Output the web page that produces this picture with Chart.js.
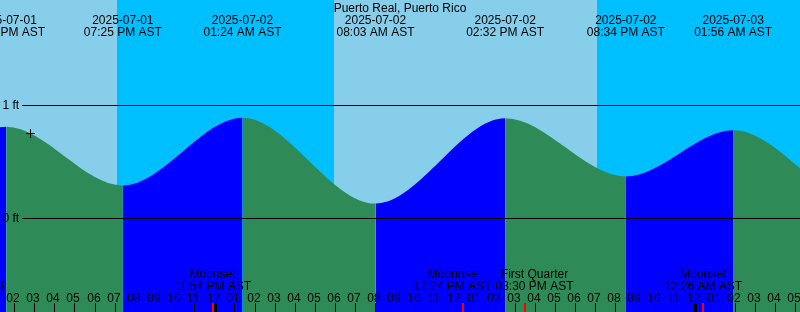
<!DOCTYPE html>
<html><head><meta charset="utf-8">
<script src="https://cdn.jsdelivr.net/npm/chart.js@4/dist/chart.umd.min.js"></script>
<style>html,body{margin:0;padding:0;background:#fff;overflow:hidden}#wrap{width:800px;height:312px}</style>
</head><body><div id="wrap"><canvas id="c" width="800" height="312"></canvas></div>
<script>
// ---- data ----
const title = 'Puerto Real, Puerto Rico';
const tideTimes   = ['2025-07-01 01:05','2025-07-01 07:15','2025-07-01 13:35','2025-07-01 19:25','2025-07-02 01:24','2025-07-02 08:03','2025-07-02 14:32','2025-07-02 20:34','2025-07-03 01:56','2025-07-03 08:40','2025-07-03 15:00'];
const tideHeights = [0.85, 0.10, 0.81, 0.29, 0.89, 0.13, 0.885, 0.37, 0.78, 0.10, 0.85];
const markerTimes   = ['2025-07-01 14:48'];
const markerHeights = [0.75];
const dayStarts = ['2025-07-01 05:57','2025-07-02 05:58','2025-07-03 05:59'];
const dayEnds   = ['2025-07-01 19:07','2025-07-02 19:07','2025-07-03 19:08'];
const moonLabels = ['Moonrise','Moonset','Moonrise','First Quarter','Moonset'];
const moonTimes  = ['2025-07-01 11:38','2025-07-01 23:54','2025-07-02 12:24','2025-07-02 15:30','2025-07-03 00:26'];
const yTickValues = [0, 1];
const yTickLabels = ['0 ft', '1 ft'];
const viewStart = '2025-07-01 13:16:30';
const viewEnd   = '2025-07-03 05:16:30';
const tz = 'AST';

// ---- helpers ----
const BASE = Date.UTC(2025, 6, 2, 0, 0, 0);
function toHours(s){
  const [d, t] = s.split(' ');
  const [Y, M, D] = d.split('-').map(Number);
  const tp = t.split(':').map(Number);
  return (Date.UTC(Y, M-1, D, tp[0], tp[1], tp[2]||0) - BASE) / 3600000;
}
const pad = n => String(n).padStart(2, '0');
function fmtTime(s){
  const [h, m] = s.split(' ')[1].split(':').map(Number);
  const ap = h >= 12 ? 'PM' : 'AM';
  const h12 = (h % 12) === 0 ? 12 : h % 12;
  return pad(h12) + ':' + pad(m) + ' ' + ap + ' ' + tz;
}
const FONT = '12px "Liberation Sans", Arial, sans-serif';
const DAY = '#87CEEB', NIGHT = '#00BFFF', RISE = '#0000FF', FALL = '#2E8B57';

const tideData = tideTimes.map((t, i) => ({x: toHours(t), y: tideHeights[i]}));
const markerData = markerTimes.map((t, i) => ({x: toHours(t), y: markerHeights[i]}));

const drawPlugin = {
  id: 'tideDecor',
  beforeDatasetsDraw(chart){
    const {ctx, scales: {x}} = chart;
    const W = chart.width, H = chart.height;
    ctx.save();
    ctx.fillStyle = NIGHT;
    ctx.fillRect(0, 0, W, H);
    ctx.fillStyle = DAY;
    dayStarts.forEach((s, i) => {
      const a = Math.round(x.getPixelForValue(toHours(s)));
      const b = Math.round(x.getPixelForValue(toHours(dayEnds[i])));
      ctx.fillRect(a, 0, b - a, H);
    });
    ctx.restore();
  },
  afterDatasetsDraw(chart){
    const {ctx, scales: {x, y}} = chart;
    const W = chart.width, H = chart.height;
    ctx.save();
    ctx.font = FONT;
    ctx.fillStyle = '#000';
    ctx.strokeStyle = '#000';
    // y reference lines and labels
    yTickValues.forEach((v, i) => {
      const py = Math.round(y.getPixelForValue(v));
      ctx.lineWidth = 1;
      ctx.beginPath();
      ctx.moveTo(22, py + 0.5); ctx.lineTo(W, py + 0.5); ctx.stroke();
      ctx.textAlign = 'left'; ctx.textBaseline = 'alphabetic';
      ctx.fillText(yTickLabels[i], 2.5, py + 4);
    });
    // title
    ctx.textAlign = 'center';
    ctx.fillText(title, W / 2, 12);
    // tide extreme labels
    tideTimes.forEach(t => {
      const px = x.getPixelForValue(toHours(t));
      ctx.fillText(t.split(' ')[0], px, 24);
      ctx.fillText(fmtTime(t), px, 36);
    });
    // hour ticks and labels
    const h0 = Math.ceil(x.min), h1 = Math.floor(x.max);
    for (let h = h0; h <= h1; h++) {
      const px = Math.round(x.getPixelForValue(h));
      const hr = ((h % 24) + 24) % 24;
      const h12 = hr % 12 === 0 ? 12 : hr % 12;
      ctx.fillStyle = '#000';
      ctx.fillText(pad(h12), px - 1, 301.5);
      if (hr === 0) ctx.fillRect(px - 1, 303, 3, H - 303);
      else ctx.fillRect(px, 303, 1, H - 303);
    }
    // moon events
    const ml = moonTimes.map((t, i) => {
      const px = x.getPixelForValue(toHours(t));
      const w = Math.max(ctx.measureText(moonLabels[i]).width, ctx.measureText(fmtTime(t)).width);
      return {px, cx: px, w, label: moonLabels[i], time: fmtTime(t)};
    });
    ml.sort((a, b) => a.px - b.px);
    for (let i = 0; i + 1 < ml.length; i++) {
      const a = ml[i], b = ml[i + 1];
      const over = (a.cx + a.w / 2 + 4) - (b.cx - b.w / 2);
      if (over > 0) { a.cx -= over / 2; b.cx += over / 2; }
    }
    ml.forEach(m => {
      ctx.fillStyle = '#f00';
      ctx.fillRect(Math.round(m.px) - 1, 303, 2, H - 303);
      ctx.fillStyle = '#000';
      ctx.fillText(m.label, m.cx, 278);
      ctx.fillText(m.time, m.cx, 290);
    });
    ctx.restore();
  }
};

new Chart(document.getElementById('c'), {
  type: 'line',
  data: {
    datasets: [
      {
        data: tideData,
        borderWidth: 0,
        borderColor: 'rgba(0,0,0,0)',
        pointRadius: 0,
        fill: 'start',
        backgroundColor: FALL,
        cubicInterpolationMode: 'monotone',
        segment: {
          backgroundColor: c => c.p1.parsed.y > c.p0.parsed.y ? RISE : FALL
        },
        order: 2
      },
      {
        data: markerData,
        showLine: false,
        pointStyle: 'cross',
        pointRadius: 4.5,
        pointBorderWidth: 1,
        pointBorderColor: '#000',
        borderColor: '#000',
        fill: false,
        order: 1
      }
    ]
  },
  options: {
    responsive: false,
    animation: false,
    events: [],
    devicePixelRatio: 1,
    layout: {padding: 0, autoPadding: false},
    plugins: {legend: {display: false}, tooltip: {enabled: false}, title: {display: false}},
    scales: {
      x: {type: 'linear', display: false, min: toHours(viewStart), max: toHours(viewEnd)},
      y: {type: 'linear', display: false, min: -0.8292, max: 1.9319}
    }
  },
  plugins: [drawPlugin]
});
</script>
</body></html>
